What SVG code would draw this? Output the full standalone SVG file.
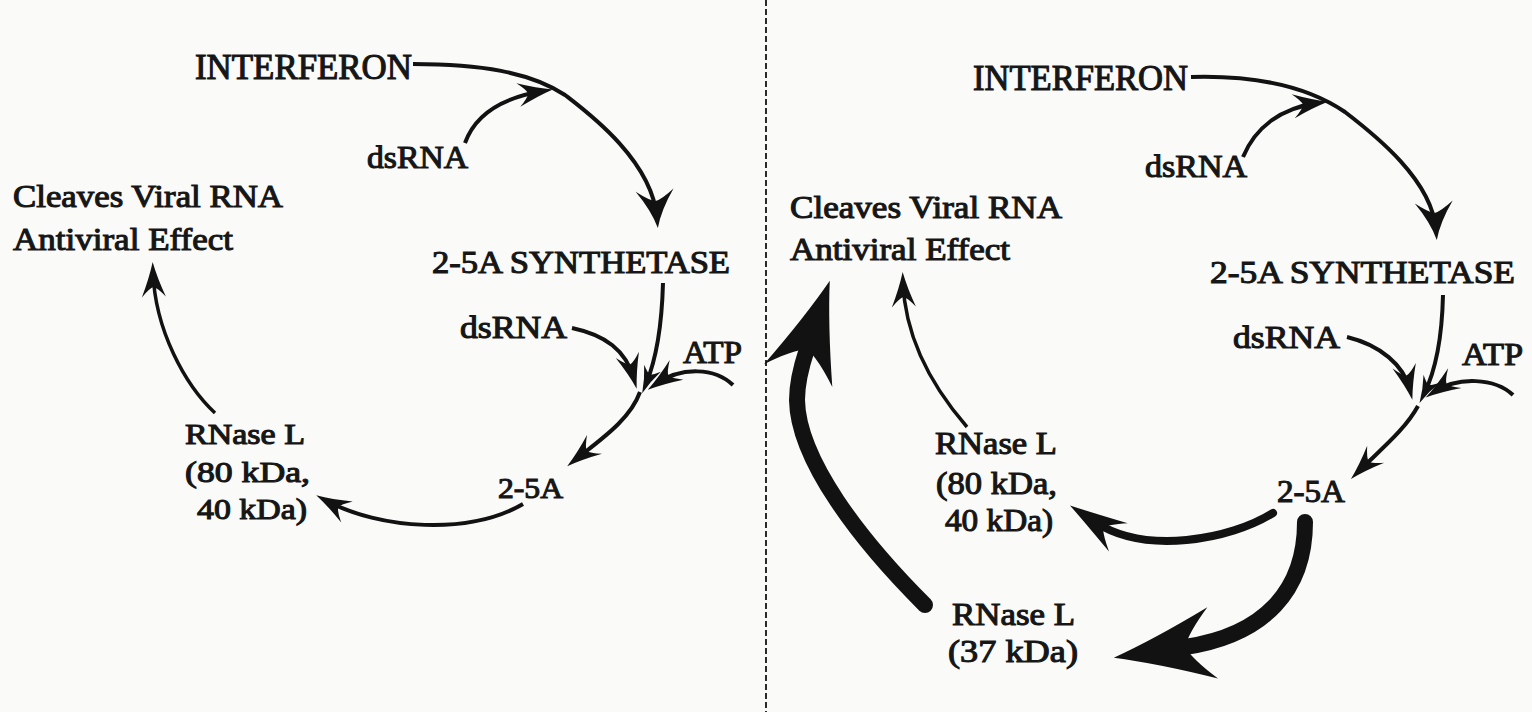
<svg xmlns="http://www.w3.org/2000/svg" width="1532" height="712" viewBox="0 0 1532 712">
  <style>
    .lbl { font-family: "Liberation Serif", "Times New Roman", serif; font-size: 32px; fill: #161616; stroke: #161616; stroke-width: 1.1; }
    .big { font-size: 35px; }
    .sm { font-size: 30px; }
    .ln { fill: none; stroke: #121212; stroke-width: 4; stroke-linecap: butt; }
    .thin { stroke-width: 3.5; }
    .w8 { stroke-width: 8; stroke-linecap: round; }
    .w16 { stroke-width: 16; stroke-linecap: round; }
    .head { fill: #121212; stroke: none; }
  </style>
  <defs>
    <!-- barbed heads; origin sits at the path end, tip lies ahead of it -->
    <marker id="head-s" markerUnits="userSpaceOnUse" viewBox="-100 -60 200 120" markerWidth="200" markerHeight="120" refX="0" refY="0" orient="auto">
      <path class="head" d="M10,0 Q-4,-3 -17,-9 Q-11,-3 -10,0 Q-11,3 -17,9 Q-4,3 10,0 Z"/>
    </marker>
    <marker id="head-m" markerUnits="userSpaceOnUse" viewBox="-100 -60 200 120" markerWidth="200" markerHeight="120" refX="0" refY="0" orient="auto">
      <path class="head" d="M10,0 Q-6,-4 -25,-12 Q-16,-4 -15,0 Q-16,4 -25,12 Q-6,4 10,0 Z"/>
    </marker>
    <marker id="head-l" markerUnits="userSpaceOnUse" viewBox="-100 -60 200 120" markerWidth="200" markerHeight="120" refX="0" refY="0" orient="auto">
      <path class="head" d="M10,0 Q-8,-5 -28,-19 Q-18,-6 -17,0 Q-18,6 -28,19 Q-8,5 10,0 Z"/>
    </marker>
    <marker id="head-w" markerUnits="userSpaceOnUse" viewBox="-100 -60 200 120" markerWidth="200" markerHeight="120" refX="0" refY="0" orient="auto">
      <path class="head" d="M30,0 Q8,-6 -28,-17 Q-12,-5 -10,0 Q-12,5 -28,17 Q8,6 30,0 Z"/>
    </marker>
    <marker id="head-xl" markerUnits="userSpaceOnUse" viewBox="-150 -80 300 160" markerWidth="300" markerHeight="160" refX="0" refY="0" orient="auto">
      <path class="head" d="M72,0 Q30,-12 -28,-36 Q-6,-14 0,0 Q-6,14 -28,36 Q30,12 72,0 Z"/>
    </marker>
  </defs>

  <rect x="0" y="0" width="1532" height="712" fill="#fafaf9"/>

  <!-- panel divider -->
  <line x1="766" y1="0" x2="766" y2="712" stroke="#2a2a2a" stroke-width="2" stroke-dasharray="6 3"/>

  <g id="connectors">
    <!-- left cycle -->
    <path class="ln" d="M413,64 C480,64 530,72 565,95 C587,112 652,160 657,218" marker-end="url(#head-l)"/>
    <path class="ln" d="M465,143 C475,115 500,98 543,91" marker-end="url(#head-m)"/>
    <path class="ln" d="M663,283 C662,320 658,355 646,384" marker-end="url(#head-s)"/>
    <path class="ln" d="M572,328 C605,335 626,350 634,379" marker-end="url(#head-m)"/>
    <path class="ln" d="M733,385 C715,368 682,366 656,384" marker-end="url(#head-m)"/>
    <path class="ln" d="M640,392 C630,420 600,440 575,460" marker-end="url(#head-m)"/>
    <path class="ln" d="M523,504 C470,535 380,530 325,500" marker-end="url(#head-m)"/>
    <path class="ln thin" d="M215,413 C185,385 155,330 153,272" marker-end="url(#head-m)"/>

    <!-- right cycle -->
    <path class="ln" d="M1191,77 C1260,75 1310,88 1345,112 C1375,135 1432,180 1436,230" marker-end="url(#head-l)"/>
    <path class="ln" d="M1243,157 C1255,128 1280,108 1318,103" marker-end="url(#head-m)"/>
    <path class="ln" d="M1443,295 C1442,340 1436,370 1424,394" marker-end="url(#head-s)"/>
    <path class="ln" d="M1347,337 C1380,345 1404,365 1410,390" marker-end="url(#head-m)"/>
    <path class="ln" d="M1513,395 C1495,378 1458,376 1434,392" marker-end="url(#head-m)"/>
    <path class="ln" d="M1418,406 C1405,430 1380,450 1358,472" marker-end="url(#head-m)"/>
    <path class="ln w8" d="M1273,513 C1230,540 1145,555 1095,522" marker-end="url(#head-w)"/>
    <path class="ln w16" d="M1305,522 C1305,590 1265,635 1185,647" marker-end="url(#head-xl)"/>
    <path class="ln w16" d="M925,605 C860,540 798,460 797,400 C797,385 800,370 807,349" marker-end="url(#head-xl)"/>
    <path class="ln thin" d="M967,427 C935,390 905,340 903,282" marker-end="url(#head-m)"/>
  </g>

  <!-- left panel labels -->
  <g id="interferon-l"><text class="lbl big" x="195" y="79" textLength="217" lengthAdjust="spacingAndGlyphs">INTERFERON</text></g>
  <g id="dsrna-top-l"><text class="lbl" x="367" y="168" textLength="101" lengthAdjust="spacingAndGlyphs">dsRNA</text></g>
  <g id="antiviral-l">
    <text class="lbl" x="13" y="207" textLength="270" lengthAdjust="spacingAndGlyphs">Cleaves Viral RNA</text>
    <text class="lbl" x="13" y="250" textLength="220" lengthAdjust="spacingAndGlyphs">Antiviral Effect</text>
  </g>
  <g id="synthetase-l"><text class="lbl" x="432" y="273" textLength="298" lengthAdjust="spacingAndGlyphs">2-5A SYNTHETASE</text></g>
  <g id="dsrna-mid-l"><text class="lbl" x="460" y="338" textLength="107" lengthAdjust="spacingAndGlyphs">dsRNA</text></g>
  <g id="atp-l"><text class="lbl" x="683" y="363" textLength="59" lengthAdjust="spacingAndGlyphs">ATP</text></g>
  <g id="oligo-l"><text class="lbl sm" x="498" y="498" textLength="65" lengthAdjust="spacingAndGlyphs">2-5A</text></g>
  <g id="rnasel-l">
    <text class="lbl sm" x="185" y="444" textLength="120" lengthAdjust="spacingAndGlyphs">RNase L</text>
    <text class="lbl sm" x="185" y="482" textLength="125" lengthAdjust="spacingAndGlyphs">(80 kDa,</text>
    <text class="lbl sm" x="197" y="519" textLength="110" lengthAdjust="spacingAndGlyphs">40 kDa)</text>
  </g>

  <!-- right panel labels -->
  <g id="interferon-r"><text class="lbl big" x="973" y="90" textLength="215" lengthAdjust="spacingAndGlyphs">INTERFERON</text></g>
  <g id="dsrna-top-r"><text class="lbl" x="1145" y="177" textLength="102" lengthAdjust="spacingAndGlyphs">dsRNA</text></g>
  <g id="antiviral-r">
    <text class="lbl" x="790" y="218" textLength="272" lengthAdjust="spacingAndGlyphs">Cleaves Viral RNA</text>
    <text class="lbl" x="790" y="260" textLength="220" lengthAdjust="spacingAndGlyphs">Antiviral Effect</text>
  </g>
  <g id="synthetase-r"><text class="lbl" x="1210" y="283" textLength="305" lengthAdjust="spacingAndGlyphs">2-5A SYNTHETASE</text></g>
  <g id="dsrna-mid-r"><text class="lbl" x="1233" y="348" textLength="107" lengthAdjust="spacingAndGlyphs">dsRNA</text></g>
  <g id="atp-r"><text class="lbl" x="1462" y="365" textLength="61" lengthAdjust="spacingAndGlyphs">ATP</text></g>
  <g id="oligo-r"><text class="lbl" x="1277" y="502" textLength="68" lengthAdjust="spacingAndGlyphs">2-5A</text></g>
  <g id="rnasel-r">
    <text class="lbl" x="935" y="454" textLength="122" lengthAdjust="spacingAndGlyphs">RNase L</text>
    <text class="lbl" x="936" y="494" textLength="121" lengthAdjust="spacingAndGlyphs">(80 kDa,</text>
    <text class="lbl" x="945" y="531" textLength="108" lengthAdjust="spacingAndGlyphs">40 kDa)</text>
  </g>
  <g id="rnasel37-r">
    <text class="lbl" x="952" y="625" textLength="123" lengthAdjust="spacingAndGlyphs">RNase L</text>
    <text class="lbl" x="948" y="662" textLength="130" lengthAdjust="spacingAndGlyphs">(37 kDa)</text>
  </g>
</svg>
